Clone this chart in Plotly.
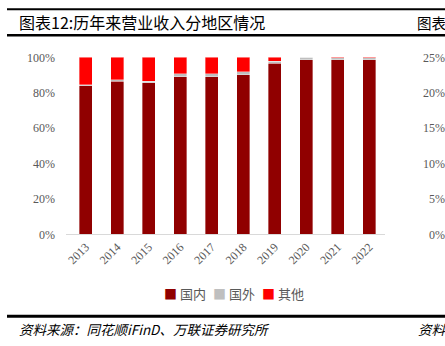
import plotly.graph_objects as go

# Revenue split by region, share of total
years = ["2013", "2014", "2015", "2016", "2017", "2018", "2019", "2020", "2021", "2022"]
domestic = [0.840, 0.864, 0.855, 0.891, 0.891, 0.902, 0.966, 0.987, 0.987, 0.987]
overseas = [0.005, 0.009, 0.010, 0.015, 0.015, 0.015, 0.011, 0.012, 0.010, 0.010]
other = [0.155, 0.127, 0.135, 0.094, 0.094, 0.083, 0.023, 0.001, 0.003, 0.003]

series_names = ["国内", "国外", "其他"]
series_colors = ["#900000", "#BFBFBF", "#FF0000"]

# Tick labels of the neighbouring chart on the right edge
side_ticks = [0, 0.05, 0.10, 0.15, 0.20, 0.25]

title_text = "图表12:历年来营业收入分地区情况"
side_title = "图表"
source_text = "资料来源：同花顺iFinD、万联证券研究所"
side_source = "资料"

W, H = 445, 346
serif = "Liberation Serif, Times New Roman, serif"
cjk = "Noto Sans CJK SC, sans-serif"
grey = "#595959"

fig = go.Figure()
for name, vals, col in zip(series_names, [domestic, overseas, other], series_colors):
    fig.add_trace(go.Bar(
        x=years, y=vals, name=name,
        marker=dict(color=col, line=dict(color="rgba(255,255,255,0.6)", width=0.6)),
        width=0.41, showlegend=False,
    ))

# invisible trace carrying the right-hand axis
fig.add_trace(go.Scatter(x=[years[0]], y=[0], yaxis="y2", mode="markers",
                         marker=dict(opacity=0), showlegend=False, hoverinfo="skip"))

def py(px):
    return 1 - px / H

def px_x(px):
    return px / W

fig.update_layout(
    width=W, height=H,
    margin=dict(l=0, r=0, t=0, b=0),
    paper_bgcolor="white", plot_bgcolor="white",
    barmode="stack",
    xaxis=dict(domain=[px_x(66), px_x(385)], type="category", automargin=False,
               tickangle=-45, tickfont=dict(family=serif, size=12, color=grey),
               showline=True, linecolor="#D9D9D9", linewidth=1,
               ticks="", showgrid=False, zeroline=False),
    yaxis=dict(domain=[py(234.3), py(57.3)], range=[0, 1], automargin=False,
               tickvals=[0, 0.2, 0.4, 0.6, 0.8, 1.0], tickformat=".0%",
               tickfont=dict(family=serif, size=12, color=grey),
               showgrid=False, zeroline=False, showline=False, ticks="",
               ticklabelstandoff=10),
    yaxis2=dict(domain=[py(234.3), py(57.3)], range=[0, 0.25], overlaying="y",
                anchor="free", position=1.0, side="left", automargin=False,
                tickvals=side_ticks, tickformat=".0%",
                tickfont=dict(family=serif, size=12, color=grey),
                showgrid=False, zeroline=False, showline=False, ticks=""),
)

shapes = []
for y0, lw in [(9.3, 2), (35.3, 2.5), (316.3, 3)]:
    shapes.append(dict(type="line", xref="paper", yref="paper",
                       x0=px_x(7), x1=1, y0=py(y0), y1=py(y0),
                       line=dict(color="black", width=lw)))
fig.update_layout(shapes=shapes)

annotations = [
    dict(text=title_text, x=px_x(17), y=py(22.5), xanchor="left", yanchor="middle",
         font=dict(family=cjk, size=16, color="#000000")),
    dict(text=side_title, x=px_x(415), y=py(22.5), xanchor="left", yanchor="middle",
         font=dict(family=cjk, size=14.5, color="#000000")),
    dict(text="<i>" + source_text + "</i>", x=px_x(17), y=py(329), xanchor="left", yanchor="middle",
         font=dict(family=cjk, size=13.5, color="#000000")),
    dict(text="<i>" + side_source + "</i>", x=px_x(416), y=py(329), xanchor="left", yanchor="middle",
         font=dict(family=cjk, size=13.5, color="#000000")),
]

# compact legend row: coloured square followed by the series name
legend_left = [162, 211, 260]
for lx, name, col in zip(legend_left, series_names, series_colors):
    annotations.append(dict(
        text=f"<span style='color:{col}'>■</span> {name}",
        x=px_x(lx), y=py(293), xanchor="left", yanchor="middle",
        font=dict(family=cjk, size=13, color=grey)))

for a in annotations:
    a.update(xref="paper", yref="paper", showarrow=False)
fig.update_layout(annotations=annotations)

fig.write_html("out.html")
